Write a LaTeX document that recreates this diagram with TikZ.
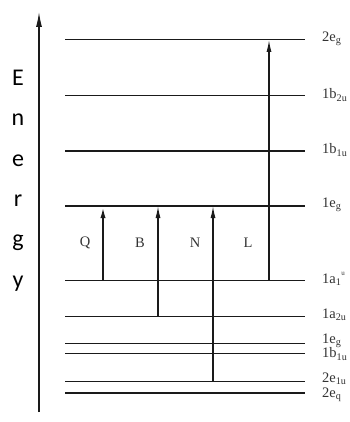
\documentclass[tikz,border=0pt]{standalone}
\usepackage{fontspec}
\setmainfont{Liberation Serif}
\newfontfamily\axisfont{Carlito}
\usetikzlibrary{arrows.meta,positioning,calc}
\definecolor{lvline}{HTML}{1A1A1A}
\definecolor{lvtext}{HTML}{333333}

\tikzset{
  thinlv/.style={draw=lvline,line width=1pt},
  thicklv/.style={draw=lvline,line width=2.6pt},
  lvlabel/.style={anchor=west,font=\fontsize{14.5}{15}\selectfont,text=lvtext,inner sep=0pt},
  trans/.style={draw=lvline,line width=1.3pt,-{Latex[length=12pt,width=5pt]}},
  transq/.style={trans,line width=2pt},
  translabel/.style={font=\fontsize{14.5}{15}\selectfont,text=lvtext,inner sep=0pt},
  axisletter/.style={font=\axisfont\fontsize{24}{26}\selectfont,inner sep=0pt}
}

\begin{document}
\begin{tikzpicture}[x=1pt,y=-1pt]
    \useasboundingbox (0,0) rectangle (349,422);
    \fill[white] (0,0) rectangle (349,422);
    \coordinate (axbot) at (39,412);
    \coordinate (axtop) at (39,12);
    \draw[draw=lvline,line width=1.2pt,-{Latex[length=15pt,width=6pt]}] (axbot) -- (axtop);
    \foreach \y/\ch [count=\i] in {78/E,120/n,161/e,201/r,243/g,284/y}
      \node[axisletter] (en\i) at (18,\y) {\ch};
    \foreach \y/\dy/\lab/\kind [count=\i] in {%
      40/-1/{2e\textsubscript{g}}/thinlv,
      96/-1/{1b\textsubscript{2u}}/thinlv,
      151/-1/{1b\textsubscript{1u}}/thicklv,
      206/-1/{1e\textsubscript{g}}/thicklv,
      280/-1/{1a\textsubscript{1}\raisebox{1.2ex}{\scriptsize u}}/thinlv,
      316/-1/{1a\textsubscript{2u}}/thinlv,
      343/-2/{1e\textsubscript{g}}/thinlv,
      353/1/{1b\textsubscript{1u}}/thinlv,
      381/-2/{2e\textsubscript{1u}}/thinlv,
      393/2/{2e\textsubscript{q}}/thicklv}
    {
      \coordinate (lv\i) at (65,\y);
      \coordinate (lvend\i) at (305,\y);
      \path[\kind] (lv\i) -- (lvend\i);
      \node[lvlabel] (lab\i) at (322,\y+\dy) {\lab};
    }
    \draw[transq] (103,0 |- lv5) -- (103,0 |- lv4);
    \draw[trans] (158,0 |- lv6) -- (158,0 |- lv4);
    \draw[trans] (213,0 |- lv9) -- (213,0 |- lv4);
    \draw[trans,line width=1.2pt] (269,0 |- lv5) -- (269,0 |- lv1);
    \foreach \x/\t in {85/Q,140/B,195/N,248/L}
      \node[translabel] (tr\t) at (\x,243) {\t};
  \end{tikzpicture}
\end{document}
